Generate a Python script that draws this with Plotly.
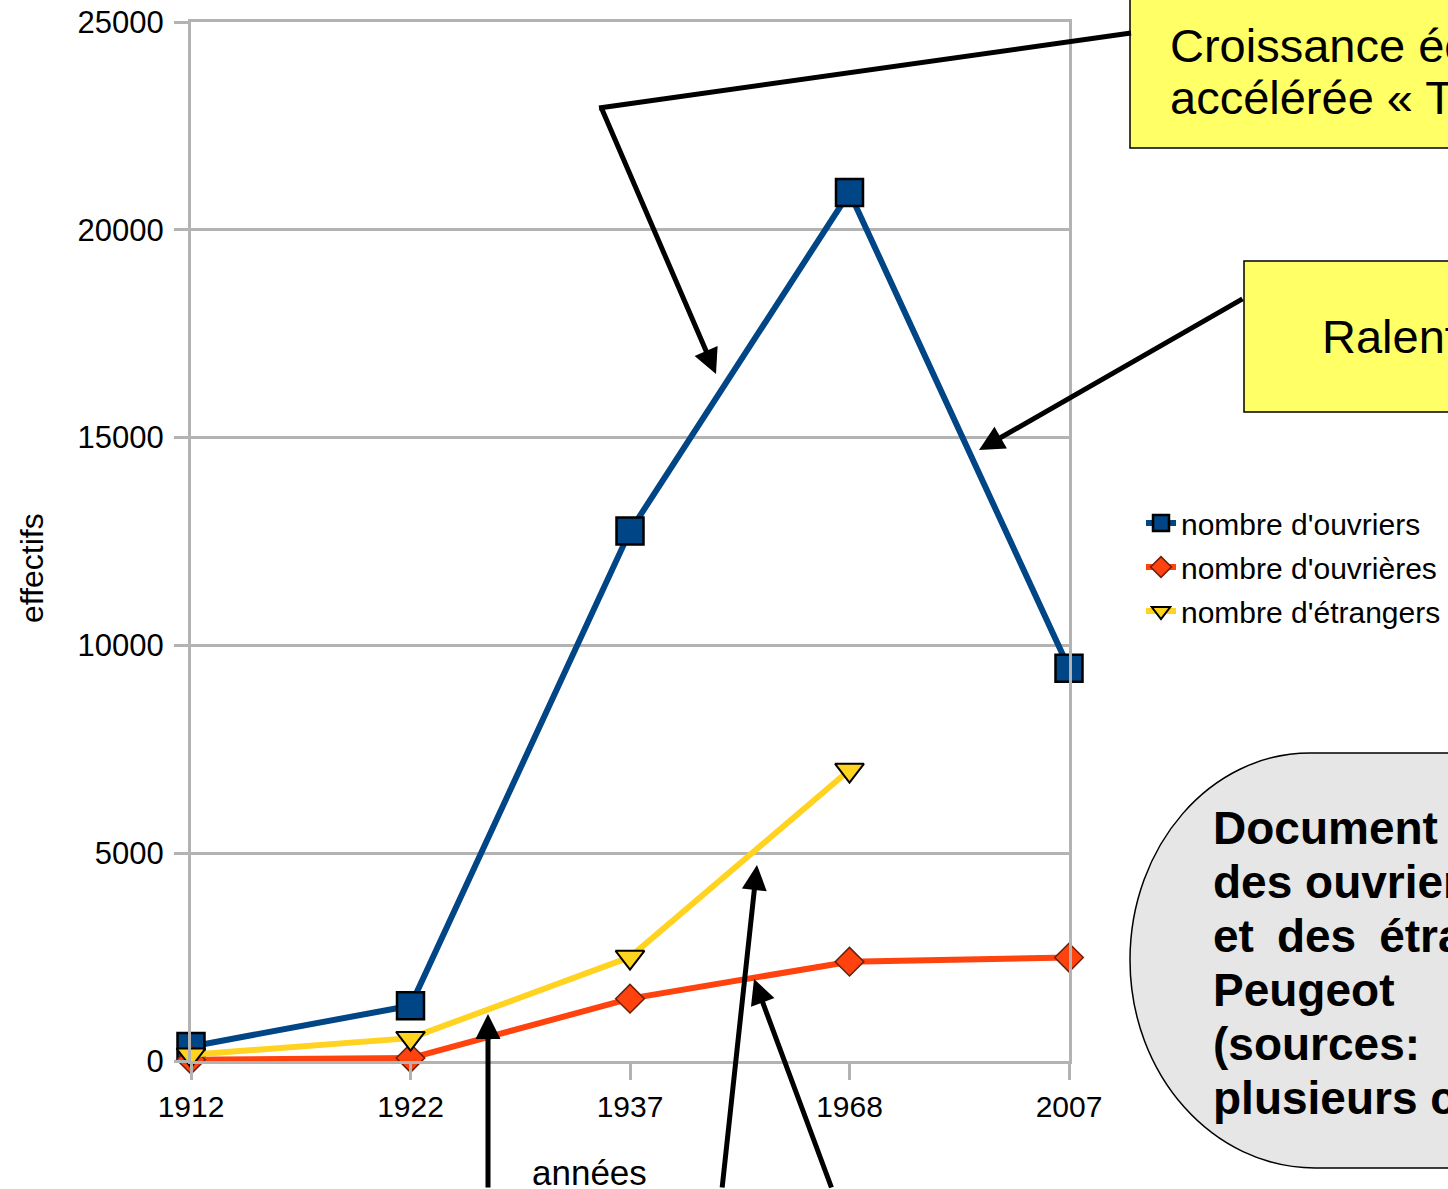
import plotly.graph_objects as go

# ---------------- data ----------------
annees = ["1912", "1922", "1937", "1968", "2007"]
ouvriers = [350, 1330, 12750, 20900, 9450]
ouvrieres = [30, 70, 1500, 2390, 2490]
etrangers = [150, 550, 2500, 7000, None]
y_ticks = [0, 5000, 10000, 15000, 20000, 25000]

noms = ["nombre d'ouvriers", "nombre d'ouvrières", "nombre d'étrangers"]

# ---------------- geometry helpers (pixel -> paper) ----------------
W, H = 1448, 1189
L, R, T, B = 191, 1069, 22, 1061


def px(x):
    return (x - L) / (R - L)


def py(y):
    return (B - y) / (B - T)


FONT = "Liberation Sans, Arial, sans-serif"
GRID = "#b3b3b3"

fig = go.Figure()
fig.add_trace(go.Scatter(
    x=annees, y=ouvriers, name=noms[0], mode="lines+markers", legendgroup="a",
    line=dict(color="#004586", width=6),
    marker=dict(symbol="square", size=27, color="#004586",
                line=dict(color="black", width=2.5)),
    cliponaxis=False))
fig.add_trace(go.Scatter(
    x=annees, y=ouvrieres, name=noms[1], mode="lines+markers", legendgroup="b",
    line=dict(color="#ff420e", width=6),
    marker=dict(symbol="diamond", size=22, color="#ff420e",
                line=dict(color="#6b1e08", width=1.5)),
    cliponaxis=False))
fig.add_trace(go.Scatter(
    x=annees, y=etrangers, name=noms[2], mode="lines+markers", legendgroup="c",
    line=dict(color="#ffd320", width=6),
    marker=dict(symbol="triangle-down", size=25, color="#ffd320",
                line=dict(color="black", width=2)),
    cliponaxis=False))

shapes = []
annotations = []

# yellow boxes
shapes.append(dict(type="rect", xref="paper", yref="paper",
                   x0=px(1130), x1=px(1520), y0=py(148), y1=py(-20),
                   fillcolor="#ffff66", line=dict(color="black", width=1.5)))
shapes.append(dict(type="rect", xref="paper", yref="paper",
                   x0=px(1244), x1=px(1560), y0=py(412), y1=py(261),
                   fillcolor="#ffff66", line=dict(color="black", width=1.5)))

# grey rounded shape
def P(x, y):
    return f"{px(x):.5f},{py(y):.5f}"

k = 0.5523
path = ("M " + P(1560, 753) + " L " + P(1310, 753) +
        " C " + P(1310 - k * 180, 753) + " " + P(1130, 960 - k * 207) + " " + P(1130, 960) +
        " C " + P(1130, 960 + k * 208) + " " + P(1315 - k * 185, 1168) + " " + P(1315, 1168) +
        " L " + P(1560, 1168) + " Z")
shapes.append(dict(type="path", xref="paper", yref="paper", path=path,
                   fillcolor="#e6e6e6", line=dict(color="black", width=1.5)))

# first arrow segment (box -> corner)
shapes.append(dict(type="line", xref="paper", yref="paper",
                   x0=px(1131), y0=py(33), x1=px(599), y1=py(108),
                   line=dict(color="black", width=5)))


def arrow(tx, ty, hx, hy):
    annotations.append(dict(
        x=px(hx), y=py(hy), xref="paper", yref="paper",
        ax=tx - hx, ay=ty - hy, axref="pixel", ayref="pixel",
        text="", showarrow=True, arrowhead=2, arrowsize=1.0,
        arrowwidth=5, arrowcolor="black", standoff=0, startstandoff=0))


arrow(601, 107, 716, 374)
arrow(1244, 298, 979, 450)
arrow(488, 1210, 488, 1014)
arrow(722, 1210, 757, 865)
arrow(832, 1210, 754, 979)


def text(x, y, s, size=46, bold=False, anchor="left"):
    annotations.append(dict(
        x=px(x), y=py(y), xref="paper", yref="paper",
        xanchor=anchor, yanchor="middle", showarrow=False,
        text=("<b>" + s + "</b>") if bold else s,
        font=dict(family=FONT, size=size, color="black")))


text(1168, 45, "Croissance économique", size=47)
text(1168, 98, "accélérée « Trente Glorieuses »", size=47)
text(1320, 336, "Ralentissement", size=47)

doc_lines = ["Document 1 : évolution",
             "des ouvriers, des ouvrières",
             "et\u2002des\u2002étrangers",
             "Peugeot\u2003\u2003\u2003à",
             "(sources:\u2003\u2003\u2003",
             "plusieurs chiffres)"]
for i, s in enumerate(doc_lines):
    text(1211, 828 + i * 54, s, bold=True)

# axis titles
annotations.append(dict(x=px(32), y=py(568), xref="paper", yref="paper",
                        text="effectifs", textangle=-90, showarrow=False,
                        xanchor="center", yanchor="middle",
                        font=dict(family=FONT, size=32, color="black")))
annotations.append(dict(x=px(589), y=py(1172), xref="paper", yref="paper",
                        text="années", showarrow=False,
                        xanchor="center", yanchor="middle",
                        font=dict(family=FONT, size=35, color="black")))

fig.update_layout(
    width=W, height=H, autosize=False,
    margin=dict(l=L, r=W - R, t=T, b=H - B, pad=0, autoexpand=False),
    paper_bgcolor="white", plot_bgcolor="white",
    font=dict(family=FONT, size=30, color="black"),
    showlegend=True,
    legend=dict(x=px(1141), y=py(497), xanchor="left", yanchor="top",
                bgcolor="rgba(0,0,0,0)", font=dict(size=30),
                traceorder="grouped", tracegroupgap=2, itemwidth=30),
    shapes=shapes, annotations=annotations,
    xaxis=dict(type="category", range=[0, 4], showgrid=False, automargin=False,
               showline=True, linecolor=GRID, linewidth=3, mirror=True,
               ticks="outside", ticklen=16, tickwidth=3, tickcolor=GRID,
               tickfont=dict(size=30, color="black"),
               ticklabelstandoff=1, zeroline=False),
    yaxis=dict(range=[0, 25000], tickvals=y_ticks, tickformat="d", automargin=False,
               showgrid=True, gridcolor=GRID, gridwidth=3,
               showline=True, linecolor=GRID, linewidth=3, mirror=True,
               ticks="outside", ticklen=14, tickwidth=3, tickcolor=GRID,
               tickfont=dict(size=31, color="black"),
               ticklabelstandoff=4, zeroline=False),
)

fig.write_html("out.html", config={"displayModeBar": False},
               post_script="document.body.style.margin='0';")
